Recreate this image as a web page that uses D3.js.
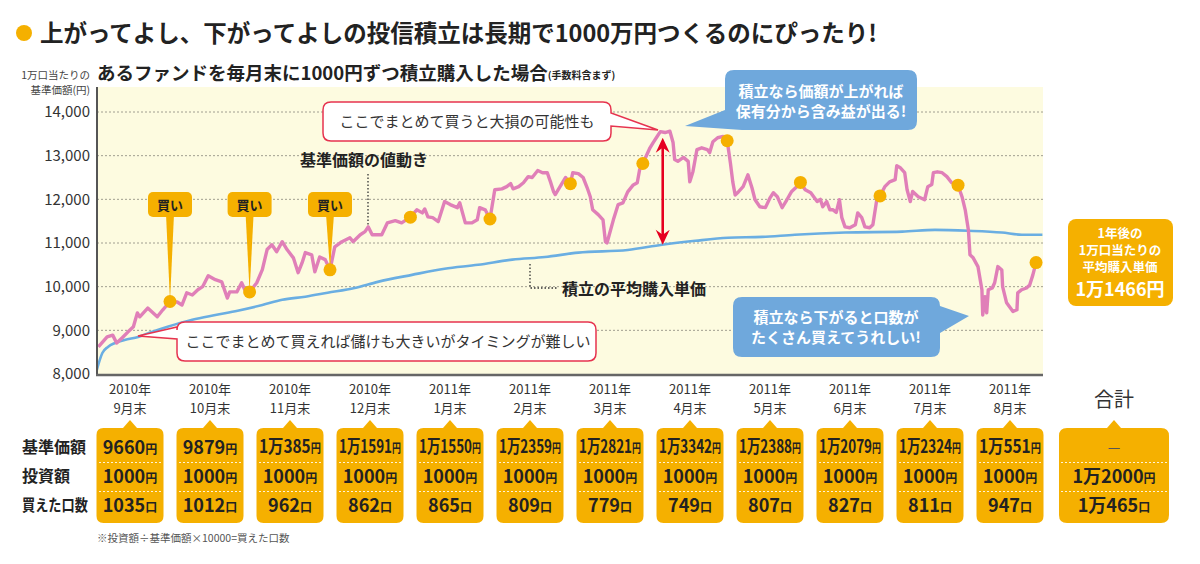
<!DOCTYPE html>
<html>
<head>
<meta charset="utf-8">
<script src="https://cdn.jsdelivr.net/npm/d3@7"></script>
<style>
  body { margin: 0; background: #fff; }
  svg { display: block; }
  text { font-family: "Noto Sans CJK JP", "Noto Sans", sans-serif; }
</style>
</head>
<body>
<div id="chart"></div>
<script>
// ---- data (x in months after end of Aug 2010) ----
var priceT = [0.10,0.21,0.28,0.33,0.40,0.47,0.54,0.59,0.62,0.72,0.84,0.91,
  1.09,1.15,1.21,1.28,1.35,1.41,1.48,1.57,1.65,1.72,1.75,1.84,1.90,1.94,
  2.09,2.16,2.22,2.28,2.34,2.41,2.47,2.55,2.61,2.66,2.70,2.78,2.82,2.88,2.95,
  3.07,3.16,3.26,3.30,3.39,3.45,3.49,3.54,3.66,3.73,3.83,3.91,
  4.10,4.17,4.20,4.24,4.30,4.37,4.45,4.52,4.61,4.64,4.71,4.79,4.86,4.89,4.96,
  5.08,5.17,5.23,5.28,5.31,5.38,5.44,5.50,5.55,5.62,5.68,5.74,5.78,5.82,5.84,5.90,5.97,
  6.06,6.13,6.19,6.24,6.28,6.31,6.38,6.44,6.47,6.49,6.57,6.63,6.69,6.75,6.82,6.87,6.90,
  6.99,7.03,7.07,7.12,7.16,7.22,7.28,7.32,7.34,7.38,7.45,7.51,7.53,7.57,7.62,7.68,7.75,7.78,7.82,7.88,7.95,
  8.04,8.07,8.10,8.14,8.20,8.26,8.31,8.35,8.41,8.48,8.54,8.58,8.63,8.69,8.75,8.81,8.88,
  8.98,9.05,9.13,9.17,9.20,9.25,9.29,9.33,9.37,9.41,9.44,9.48,9.54,9.61,9.64,9.69,9.73,9.79,9.83,9.88,
  9.98,10.04,10.11,10.13,10.17,10.23,10.26,10.30,10.33,10.40,10.48,10.52,10.57,10.59,10.64,10.70,10.76,10.82,
  10.95,10.99,11.03,11.05,11.09,11.15,11.20,11.21,11.24,11.26,11.28,11.33,11.36,11.40,11.45,11.46,11.51,11.59,11.64,11.65,11.70,11.76,11.80,11.84,
  11.93];
var priceV = [8620,8850,8890,8710,8830,8960,9080,9400,9310,9510,9310,9470,
  9650,9580,9860,9810,9930,10000,10250,10160,10110,9740,9880,9880,10090,9930,
  10090,10390,10850,10960,10800,11030,10850,10660,10320,10550,10780,10730,10340,10680,10620,
  10910,11030,11120,11030,11190,11260,11370,11190,11190,11460,11510,11460,
  11760,11690,11780,11600,11580,11490,11950,11880,11810,11920,11460,11460,11530,11810,11760,
  12220,12240,12290,12360,12240,12290,12380,12520,12500,12660,12610,12610,12400,12170,12110,12290,12500,
  12610,12590,12500,12270,12060,11760,11650,11530,11030,11000,11530,11880,11920,12170,12330,12380,12680,
  13020,13180,13300,13440,13550,13530,13560,13300,12910,12870,12960,12870,12400,12640,13140,13180,13140,13070,13320,13410,13440,
  12840,12400,12100,12170,12290,12560,12270,11990,11830,11810,12040,12150,12060,11810,11990,12180,12300,
  12220,12150,11950,12000,11830,11950,11760,11760,11700,11990,11580,11370,11350,11420,11690,11580,11370,11350,11420,12000,
  12290,12400,12450,12770,12730,12610,12220,11950,12180,12060,11990,12290,12340,12610,12630,12610,12520,12380,
  12060,11760,11300,10730,10660,10460,9930,9350,9770,9400,9930,9970,10090,10460,10380,10000,9630,9430,9470,9860,9930,9970,10040,10270,
  10660];

var avgT = [0.08,0.15,0.22,0.31,0.43,0.60,0.77,0.97,1.28,1.57,1.85,2.16,2.41,2.70,2.98,3.32,3.61,
  4.04,4.45,4.87,5.30,5.71,6.13,6.75,7.18,7.60,8.01,8.44,8.85,9.48,10.20,10.61,11.03,11.45,11.70,11.96];
var avgV = [8090,8480,8620,8710,8780,8850,8960,9080,9240,9350,9450,9580,9700,9770,9860,9970,10110,
  10270,10410,10500,10620,10680,10780,10840,10960,11050,11120,11140,11190,11240,11260,11300,11280,11240,11190,11190];

// month-end purchases
var buyT = [1.00,2.00,3.01,4.02,5.02,6.03,6.94,8.00,8.92,9.92,10.90,11.88];
var navValues = [9660,9879,10385,11591,11550,12359,12821,13342,12388,12079,12324,10551];
var investValues = [1000,1000,1000,1000,1000,1000,1000,1000,1000,1000,1000,1000];
var unitValues = [1035,1012,962,862,865,809,779,749,807,827,811,947];
var monthYears = ["2010年","2010年","2010年","2010年","2011年","2011年","2011年","2011年","2011年","2011年","2011年","2011年"];
var monthNames = ["9月末","10月末","11月末","12月末","1月末","2月末","3月末","4月末","5月末","6月末","7月末","8月末"];
var rowLabels = ["基準価額","投資額","買えた口数"];
var totalLabel = "合計";
var totalValues = ["—", 12000, 10465];

var yTicks = [8000,9000,10000,11000,12000,13000,14000];

var titleText = "上がってよし、下がってよしの投信積立は長期で1000万円つくるのにぴったり!";
var subTitle = "あるファンドを毎月末に1000円ずつ積立購入した場合";
var subNote = "(手数料含まず)";
var yTitle = ["1万口当たりの","基準価額(円)"];
var buyLabel = "買い";
var buyIdx = [0,1,2];
var arrowT = 7.19, arrowTop = 13410, arrowBottom = 10960;
var footNote = "※投資額÷基準価額×10000=買えた口数";
var avgBoxLines = ["1年後の","1万口当たりの","平均購入単価","1万1466円"];

// ---- setup ----
var width = 1200, height = 564;
var ORANGE = "#f5b000", PINK = "#e07fb8", BLUE = "#6aaee2", RED = "#e6334f", CALL = "#6fa8dc";
var plot = {left: 97, right: 1043, top: 87, bottom: 375};

var svg = d3.select("#chart").append("svg")
    .attr("width", width)
    .attr("height", height);

var x = d3.scaleLinear().domain([0, 12]).range([90.4, 1045.6]);
var y = d3.scaleLinear().domain([8000, 14000]).range([374, 112]);
var col = d3.scaleLinear().domain([0, 11]).range([130, 1010]);

// squeeze a text horizontally if it is wider than maxW
function fitWidth(t, maxW, anchorX) {
  var w = t.node().getComputedTextLength();
  if (w > maxW) {
    var k = maxW / w;
    t.attr("transform", "translate(" + anchorX + ",0) scale(" + k + ",1) translate(" + (-anchorX) + ",0)");
  }
}

// title
svg.append("circle").attr("cx", 24).attr("cy", 33).attr("r", 8).attr("fill", ORANGE);
svg.append("text").attr("x", 40).attr("y", 42)
    .attr("font-size", 23.5).attr("font-weight", "bold").attr("fill", "#222")
    .text(titleText);

var st = svg.append("text").attr("x", 97).attr("y", 80)
    .attr("font-size", 18.5).attr("font-weight", "bold").attr("fill", "#222");
st.append("tspan").text(subTitle);
st.append("tspan").attr("font-size", 10).attr("dy", -1).text(subNote);

var yt = svg.append("text").attr("text-anchor", "end").attr("font-size", 10.5).attr("fill", "#444");
yTitle.forEach(function(s, i) {
  yt.append("tspan").attr("x", 90).attr("y", 79 + i * 15).text(s);
});

// plot background + grid
svg.append("rect").attr("x", plot.left).attr("y", plot.top)
    .attr("width", plot.right - plot.left).attr("height", plot.bottom - plot.top)
    .attr("fill", "#fdfbe0");

svg.selectAll(".grid").data(yTicks.slice(1)).enter().append("line")
    .attr("x1", plot.left).attr("x2", plot.right)
    .attr("y1", function(d) { return y(d); }).attr("y2", function(d) { return y(d); })
    .attr("stroke", "#a09e90").attr("stroke-width", 1).attr("stroke-dasharray", "2,2");

// y axis
var yAxis = svg.append("g").attr("transform", "translate(" + plot.left + ",0)")
    .call(d3.axisLeft(y).tickValues(yTicks).tickSize(0).tickPadding(7).tickFormat(d3.format(",")));
yAxis.select(".domain").remove();
yAxis.selectAll("text").attr("font-size", 15).attr("fill", "#333")
    .style("font-family", "'Noto Sans CJK JP', sans-serif");

// lines
svg.append("clipPath").attr("id", "clip").append("rect")
    .attr("x", plot.left).attr("y", plot.top)
    .attr("width", plot.right - plot.left).attr("height", plot.bottom - plot.top);

var avgPts = avgT.map(function(t, i) { return {t: t, v: avgV[i]}; });
var pricePts = priceT.map(function(t, i) { return {t: t, v: priceV[i]}; })
    .concat(buyT.map(function(t, i) { return {t: t, v: navValues[i]}; }))
    .sort(function(a, b) { return a.t - b.t; });

var line = d3.line().x(function(d) { return x(d.t); }).y(function(d) { return y(d.v); });

svg.append("path").datum(avgPts)
    .attr("clip-path", "url(#clip)")
    .attr("d", line.curve(d3.curveMonotoneX))
    .attr("fill", "none").attr("stroke", BLUE).attr("stroke-width", 2.6);

svg.append("path").datum(pricePts)
    .attr("clip-path", "url(#clip)")
    .attr("d", line.curve(d3.curveLinear))
    .attr("fill", "none").attr("stroke", PINK).attr("stroke-width", 3.4)
    .attr("stroke-linejoin", "round");

// buy markers (買い)
var buyG = svg.selectAll(".buy").data(buyIdx).enter().append("g");
buyG.append("path")
    .attr("d", function(i) {
      var cx = x(buyT[i]);
      return "M" + (cx - 4) + ",214 L" + (cx + 4) + ",214 L" + cx + "," + y(navValues[i]) + " Z";
    })
    .attr("fill", ORANGE);
buyG.append("rect")
    .attr("x", function(i) { return x(buyT[i]) - 22; }).attr("y", 192)
    .attr("width", 44).attr("height", 25).attr("rx", 5)
    .attr("fill", ORANGE);
buyG.append("text")
    .attr("x", function(i) { return x(buyT[i]); }).attr("y", 209.5)
    .attr("text-anchor", "middle").attr("font-size", 13).attr("font-weight", "bold").attr("fill", "#222")
    .text(buyLabel);

// month-end dots
svg.selectAll(".dot").data(buyT).enter().append("circle")
    .attr("cx", function(d) { return x(d); })
    .attr("cy", function(d, i) { return y(navValues[i]); })
    .attr("r", 6.5).attr("fill", ORANGE);

// red arrow
var ax = x(arrowT), ay1 = y(arrowTop), ay2 = y(arrowBottom);
svg.append("line").attr("x1", ax).attr("x2", ax).attr("y1", ay1 + 6).attr("y2", ay2 - 6)
    .attr("stroke", "#e60020").attr("stroke-width", 2.6);
svg.append("path")
    .attr("d", "M" + ax + "," + ay1 + " L" + (ax - 7) + "," + (ay1 + 15) + " L" + ax + "," + (ay1 + 10) +
      " L" + (ax + 7) + "," + (ay1 + 15) + " Z" +
      "M" + ax + "," + ay2 + " L" + (ax - 7) + "," + (ay2 - 15) + " L" + ax + "," + (ay2 - 10) +
      " L" + (ax + 7) + "," + (ay2 - 15) + " Z")
    .attr("fill", "#e60020");

// axes lines
svg.append("line").attr("x1", plot.left).attr("x2", plot.left).attr("y1", plot.top).attr("y2", plot.bottom)
    .attr("stroke", "#555").attr("stroke-width", 2);
svg.append("line").attr("x1", plot.left - 1).attr("x2", plot.right).attr("y1", plot.bottom).attr("y2", plot.bottom)
    .attr("stroke", "#666").attr("stroke-width", 2.5);

// ---- callouts ----
function bubble(x0, y0, x1, y1, r, side, a, b, tip) {
  var p = "M" + (x0 + r) + "," + y0 + " H" + (x1 - r) + " Q" + x1 + "," + y0 + " " + x1 + "," + (y0 + r);
  if (side === "right") p += " V" + a + " L" + tip[0] + "," + tip[1] + " L" + x1 + "," + b;
  p += " V" + (y1 - r) + " Q" + x1 + "," + y1 + " " + (x1 - r) + "," + y1;
  if (side === "bottomleft") {
    p += " H" + a + " L" + tip[0] + "," + tip[1] + " L" + x0 + "," + b + " V" + (y0 + r);
  } else {
    p += " H" + (x0 + r) + " Q" + x0 + "," + y1 + " " + x0 + "," + (y1 - r);
    if (side === "left") p += " V" + b + " L" + tip[0] + "," + tip[1] + " L" + x0 + "," + a;
    p += " V" + (y0 + r);
  }
  return p + " Q" + x0 + "," + y0 + " " + (x0 + r) + "," + y0 + " Z";
}

// red-bordered notes
svg.append("path").attr("d", bubble(323, 102, 611, 141, 8, "right", 113, 126, [658, 130]))
    .attr("fill", "#fff").attr("stroke", RED).attr("stroke-width", 1.5);
svg.append("text").attr("x", 467).attr("y", 127).attr("text-anchor", "middle")
    .attr("font-size", 15).attr("fill", "#333").text("ここでまとめて買うと大損の可能性も");

svg.append("path").attr("d", bubble(177, 322, 596, 361, 8, "left", 327, 339, [138, 336]))
    .attr("fill", "#fff").attr("stroke", RED).attr("stroke-width", 1.5);
svg.append("text").attr("x", 388).attr("y", 347).attr("text-anchor", "middle")
    .attr("font-size", 15).attr("fill", "#333").text("ここでまとめて買えれば儲けも大きいがタイミングが難しい");

// blue notes (two lines each, one text element)
function noteText(cx, y0, lines) {
  var t = svg.append("text").attr("text-anchor", "middle").attr("font-size", 15)
      .attr("font-weight", "bold").attr("fill", "#fff");
  lines.forEach(function(s, i) { t.append("tspan").attr("x", cx).attr("y", y0 + i * 20).text(s); });
}
svg.append("path").attr("d", bubble(725, 70, 917, 130, 9, "bottomleft", 742, 110, [685, 126]))
    .attr("fill", CALL);
noteText(821, 97, ["積立なら価額が上がれば", "保有分から含み益が出る!"]);

svg.append("path").attr("d", bubble(733, 297, 940, 357, 9, "right", 306, 333, [969, 316]))
    .attr("fill", CALL);
noteText(836, 323, ["積立なら下がると口数が", "たくさん買えてうれしい!"]);

// series labels with dotted leaders
svg.append("text").attr("x", 300).attr("y", 166).attr("font-size", 16).attr("font-weight", "bold")
    .attr("fill", "#222").text("基準価額の値動き");
svg.append("path").attr("d", "M368,174 V226")
    .attr("stroke", "#333").attr("stroke-width", 1.3).attr("stroke-dasharray", "1.5,2").attr("fill", "none");

svg.append("text").attr("x", 562).attr("y", 295).attr("font-size", 16).attr("font-weight", "bold")
    .attr("fill", "#222").text("積立の平均購入単価");
svg.append("path").attr("d", "M530,264 V288 H557")
    .attr("stroke", "#333").attr("stroke-width", 1.3).attr("stroke-dasharray", "1.5,2").attr("fill", "none");

// right summary box
svg.append("rect").attr("x", 1068).attr("y", 219).attr("width", 105).attr("height", 87).attr("rx", 8)
    .attr("fill", ORANGE);
var ab = svg.append("text").attr("text-anchor", "middle").attr("font-weight", "bold").attr("fill", "#fff");
avgBoxLines.forEach(function(s, i) {
  ab.append("tspan").attr("x", 1120).attr("y", i < 3 ? 238 + i * 17 : 296)
      .attr("font-size", i < 3 ? 12.5 : 18).text(s);
});

// ---- table ----
function tabPath(cx, top, w, h, r, tipW, tipH) {
  var x0 = cx - w / 2, x1 = cx + w / 2, y1 = top + h;
  return "M" + (x0 + r) + "," + top + " H" + (cx - tipW / 2) + " L" + cx + "," + (top - tipH) +
    " L" + (cx + tipW / 2) + "," + top + " H" + (x1 - r) + " Q" + x1 + "," + top + " " + x1 + "," + (top + r) +
    " V" + (y1 - r) + " Q" + x1 + "," + y1 + " " + (x1 - r) + "," + y1 + " H" + (x0 + r) +
    " Q" + x0 + "," + y1 + " " + x0 + "," + (y1 - r) + " V" + (top + r) + " Q" + x0 + "," + top + " " + (x0 + r) + "," + top + " Z";
}
function yen(v) {
  if (typeof v === "string") return v;
  return v >= 10000 ? "1万" + (v - 10000) : String(v);
}
var rowY = [447, 476, 505];
var boxTop = 428, boxH = 95;

function cell(cx, cy, main, suffix, maxW) {
  var t = svg.append("text").attr("x", cx).attr("y", cy + 6.5).attr("text-anchor", "middle")
      .attr("font-weight", "bold").attr("fill", "#222").attr("font-size", 18);
  t.append("tspan").text(main);
  if (suffix) t.append("tspan").attr("font-size", 12).text(suffix);
  fitWidth(t, maxW, cx);
}

// month labels: year line and month line
svg.selectAll(".ylab").data(monthYears).enter().append("text")
    .attr("x", function(d, i) { return col(i); }).attr("y", 394)
    .attr("text-anchor", "middle").attr("font-size", 13).attr("fill", "#333")
    .text(function(d) { return d; });
svg.selectAll(".mlab").data(monthNames).enter().append("text")
    .attr("x", function(d, i) { return col(i); }).attr("y", 413)
    .attr("text-anchor", "middle").attr("font-size", 13).attr("fill", "#333")
    .text(function(d) { return d; });

svg.selectAll(".tab").data(navValues).enter().append("path")
    .attr("d", function(d, i) { return tabPath(col(i), boxTop, 67, boxH, 7, 14, 8); })
    .attr("fill", ORANGE);

var sepY = [(rowY[0] + rowY[1]) / 2 + 1, (rowY[1] + rowY[2]) / 2 + 1];
navValues.forEach(function(v, i) {
  var cx = col(i);
  sepY.forEach(function(sy) {
    svg.append("line").attr("x1", cx - 31).attr("x2", cx + 31).attr("y1", sy).attr("y2", sy)
        .attr("stroke", "#fff").attr("stroke-opacity", 0.85).attr("stroke-dasharray", "2,2");
  });
  cell(cx, rowY[0], yen(v), "円", 62);
  cell(cx, rowY[1], yen(investValues[i]), "円", 62);
  cell(cx, rowY[2], yen(unitValues[i]), "口", 62);
});

// totals column
var tx = 1114;
svg.append("text").attr("x", tx).attr("y", 407).attr("text-anchor", "middle")
    .attr("font-size", 20).attr("fill", "#333").text(totalLabel);
svg.append("path").attr("d", tabPath(tx, boxTop, 110, boxH, 8, 14, 8)).attr("fill", ORANGE);
sepY.forEach(function(sy) {
  svg.append("line").attr("x1", tx - 53).attr("x2", tx + 53).attr("y1", sy).attr("y2", sy)
      .attr("stroke", "#fff").attr("stroke-opacity", 0.85).attr("stroke-dasharray", "2,2");
});
svg.append("text").attr("x", tx).attr("y", rowY[0] + 5).attr("text-anchor", "middle")
    .attr("font-size", 14).attr("fill", "#555").text(totalValues[0]);
cell(tx, rowY[1], yen(totalValues[1]), "円", 100);
cell(tx, rowY[2], yen(totalValues[2]), "口", 100);

// row labels
svg.selectAll(".rlab").data(rowLabels).enter().append("text")
    .attr("x", 22).attr("y", function(d, i) { return rowY[i] + 6; })
    .attr("font-size", 16).attr("font-weight", "bold").attr("fill", "#222")
    .text(function(d) { return d; })
    .each(function() { fitWidth(d3.select(this), 66, 22); });

svg.append("text").attr("x", 97).attr("y", 542).attr("font-size", 10.5).attr("fill", "#555")
    .text(footNote);
</script>
</body>
</html>
